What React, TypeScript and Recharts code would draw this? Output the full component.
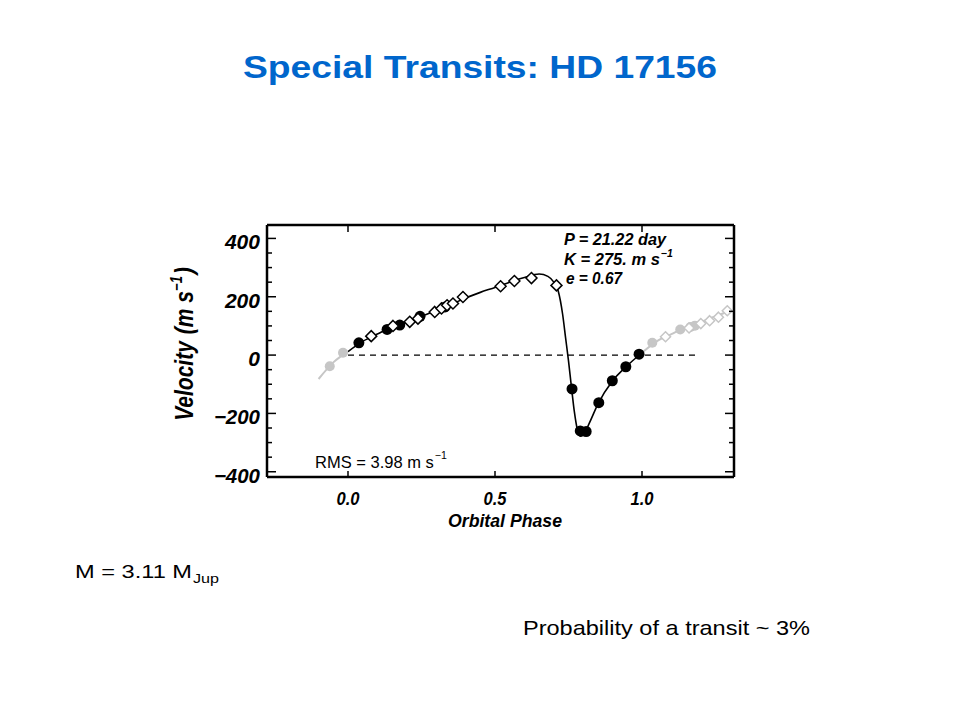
import React from 'react'
import { ComposedChart, Line, Scatter, XAxis, YAxis, ReferenceLine } from 'recharts'

// fitted orbit
const fitPhase = [0, 0.05, 0.1, 0.15, 0.2, 0.25, 0.3, 0.35, 0.4, 0.45, 0.5, 0.55, 0.6, 0.65, 0.68, 0.7, 0.715, 0.73, 0.74, 0.75, 0.76, 0.77, 0.78, 0.79, 0.8, 0.82, 0.85, 0.9, 0.95, 1.0]
const fitVel = [12, 47, 72, 96, 113, 133, 152, 173, 196, 215, 232, 250, 266, 278, 270, 250, 220, 140, 60, -20, -110, -195, -255, -278, -275, -235, -168, -88, -36, 8]

const fitLeftPhase = [-0.1, -0.05, 0]
const fitLeftVel = [-82, -25, 12]
const fitRightPhase = [1.0, 1.05, 1.1, 1.15, 1.2, 1.25, 1.3]
const fitRightVel = [8, 47, 72, 96, 113, 133, 152]

// observations
const dotPhase = [0.037, 0.133, 0.176, 0.245, 0.33, 0.762, 0.79, 0.81, 0.853, 0.899, 0.945, 0.99]
const dotVel = [42, 88, 103, 133, 165, -116, -260, -262, -163, -88, -40, 3]
const diaPhase = [0.079, 0.153, 0.21, 0.238, 0.295, 0.318, 0.337, 0.357, 0.391, 0.519, 0.566, 0.624, 0.709]
const diaVel = [65, 100, 114, 125, 148, 160, 171, 177, 199, 236, 254, 264, 239]

// repeated phases, drawn in grey
const greyDotPhase = [-0.062, -0.017, 1.035, 1.13, 1.165, 1.18]
const greyDotVel = [-38, 8, 42, 88, 96, 101]
const greyDiaPhase = [1.08, 1.16, 1.2, 1.23, 1.26, 1.29]
const greyDiaVel = [63, 93, 108, 118, 130, 152]

const xTicks = [0, 0.5, 1.0]
const yTicks = [-400, -350, -300, -250, -200, -150, -100, -50, 0, 50, 100, 150, 200, 250, 300, 350, 400]
const yLabelled = [-400, -200, 0, 200, 400]

const pts = (xs: number[], ys: number[]) => xs.map((x, i) => ({ x, y: ys[i] }))

const fit = pts(fitPhase, fitVel)
const fitLeft = pts(fitLeftPhase, fitLeftVel)
const fitRight = pts(fitRightPhase, fitRightVel)
const dots = pts(dotPhase, dotVel)
const diamonds = pts(diaPhase, diaVel)
const greyDots = pts(greyDotPhase, greyDotVel)
const greyDiamonds = pts(greyDiaPhase, greyDiaVel)

const FONT = '"Liberation Sans", Arial, Helvetica, sans-serif'
const GREY = '#c6c6c6'

const fmt = (v: number) => (v < 0 ? '\u2212' + Math.abs(v) : String(v))

function LeftTick(props: any) {
  const { x, y, payload } = props
  const v = payload.value
  const major = yLabelled.includes(v)
  const label = fmt(v)
  const w = String(Math.abs(v)).length * 11.7 + (v < 0 ? 11 : 0)
  return (
    <g>
      <line x1={x} x2={x + (major ? 9 : 5)} y1={y} y2={y} stroke="#000" strokeWidth={1.5} />
      {major && (
        <text x={x - 7 - w} y={y + 11} fontFamily={FONT} fontWeight="bold" fontStyle="italic" fontSize={21}
          fill="#000" textLength={w} lengthAdjust="spacingAndGlyphs">
          {label}
        </text>
      )}
    </g>
  )
}

function RightTick(props: any) {
  const { x, y, payload } = props
  const major = yLabelled.includes(payload.value)
  return <line x1={x} x2={x - (major ? 9 : 5)} y1={y} y2={y} stroke="#000" strokeWidth={1.5} />
}

function BottomTick(props: any) {
  const { x, y, payload } = props
  return (
    <g>
      <line x1={x} x2={x} y1={y} y2={y - 6} stroke="#000" strokeWidth={1.5} />
      <text x={x - 11.5} y={y + 28} fontFamily={FONT} fontWeight="bold" fontStyle="italic" fontSize={18.5}
        fill="#000" textLength={23} lengthAdjust="spacingAndGlyphs">
        {payload.value.toFixed(1)}
      </text>
    </g>
  )
}

function TopTick(props: any) {
  const { x, y } = props
  return <line x1={x} x2={x} y1={y} y2={y + 7} stroke="#000" strokeWidth={1.5} />
}

const Dot = (p: any) => <circle cx={p.cx} cy={p.cy} r={5.5} fill="#000" />
const GreyDot = (p: any) => <circle cx={p.cx} cy={p.cy} r={5} fill={GREY} />
const Diamond = (p: any) => (
  <path d={`M${p.cx},${p.cy - 5.5}L${p.cx + 5.5},${p.cy}L${p.cx},${p.cy + 5.5}L${p.cx - 5.5},${p.cy}Z`} fill="#fff" stroke="#000" strokeWidth={1.5} />
)
const GreyDiamond = (p: any) => (
  <path d={`M${p.cx},${p.cy - 5}L${p.cx + 5},${p.cy}L${p.cx},${p.cy + 5}L${p.cx - 5},${p.cy}Z`} fill="#fff" stroke={GREY} strokeWidth={1.5} />
)

const axisLine = { stroke: '#000', strokeWidth: 2.5 }

export default function App() {
  return (
    <div style={{ position: 'absolute', left: 0, top: 0, width: 960, height: 720, background: '#fff' }}>
      <ComposedChart width={960} height={720} margin={{ top: 215, right: 216, bottom: 183, left: 207 }}>
        <XAxis dataKey="x" type="number" domain={[-0.2755, 1.3129]} allowDataOverflow ticks={xTicks} interval={0}
          height={60} tickSize={0} tickMargin={0} tickLine={false} axisLine={axisLine} tick={<BottomTick />} />
        <XAxis xAxisId="top" orientation="top" dataKey="x" type="number" domain={[-0.2755, 1.3129]} allowDataOverflow ticks={xTicks} interval={0}
          height={10} tickSize={0} tickMargin={0} tickLine={false} axisLine={axisLine} tick={<TopTick />} />
        <YAxis dataKey="y" type="number" domain={[-418, 446]} allowDataOverflow ticks={yTicks} interval={0}
          width={60} tickSize={0} tickMargin={0} tickLine={false} axisLine={axisLine} tick={<LeftTick />} />
        <YAxis yAxisId="right" orientation="right" type="number" domain={[-418, 446]} allowDataOverflow ticks={yTicks} interval={0}
          width={10} tickSize={0} tickMargin={0} tickLine={false} axisLine={axisLine} tick={<RightTick />} />

        <ReferenceLine segment={[{ x: 0, y: 0 }, { x: 1.185, y: 0 }]} stroke="#000" strokeWidth={1.2} strokeDasharray="6 5" />

        <Line data={fitLeft} dataKey="y" type="monotone" stroke={GREY} strokeWidth={2} dot={false} isAnimationActive={false} />
        <Line data={fitRight} dataKey="y" type="monotone" stroke={GREY} strokeWidth={2} dot={false} isAnimationActive={false} />
        <Line data={fit} dataKey="y" type="monotone" stroke="#000" strokeWidth={1.6} dot={false} isAnimationActive={false} />

        <Scatter data={greyDots} shape={GreyDot} isAnimationActive={false} />
        <Scatter data={greyDiamonds} shape={GreyDiamond} isAnimationActive={false} />
        <Scatter data={dots} shape={Dot} isAnimationActive={false} />
        <Scatter data={diamonds} shape={Diamond} isAnimationActive={false} />
      </ComposedChart>

      <svg width={960} height={720} style={{ position: 'absolute', left: 0, top: 0, pointerEvents: 'none' }}>
        <text x={243} y={78} fontFamily={FONT} fontWeight="bold" fontSize={32} fill="#0066cc" textLength={474} lengthAdjust="spacingAndGlyphs">
          Special Transits: HD 17156
        </text>

        <g transform="translate(193,344) rotate(-90) scale(1,1.2)" fontFamily={FONT} fontWeight="bold" fontStyle="italic" fill="#000">
          <text x={0} y={0} textAnchor="middle" fontSize={21}>
            Velocity<tspan dx={7}>(m s</tspan>
            <tspan fontSize={13} dy={-9}>{'\u22121'}</tspan>
            <tspan dy={9} dx={2}>)</tspan>
          </text>
        </g>

        <text x={448} y={527} fontFamily={FONT} fontWeight="bold" fontStyle="italic" fontSize={19} fill="#000" textLength={114} lengthAdjust="spacingAndGlyphs">
          Orbital Phase
        </text>

        <g fontFamily={FONT} fontWeight="bold" fontStyle="italic" fill="#000">
          <text x={564} y={245} fontSize={16.5} textLength={102} lengthAdjust="spacingAndGlyphs">P = 21.22 day</text>
          <text x={564} y={264.5} fontSize={16.5}>
            K = 275. m s<tspan fontSize={10.5} dy={-8} dx={1}>{'\u22121'}</tspan>
          </text>
          <text x={566} y={284} fontSize={16.5} textLength={56} lengthAdjust="spacingAndGlyphs">e = 0.67</text>
        </g>

        <text x={315} y={468} fontFamily={FONT} fontSize={16.5} fill="#000">
          RMS = 3.98 m s<tspan fontSize={10.5} dy={-9} dx={1}>{'\u22121'}</tspan>
        </text>

        <text x={75} y={578} fontFamily={FONT} fontSize={19} fill="#000" textLength={117} lengthAdjust="spacingAndGlyphs">M = 3.11 M</text>
        <text x={193} y={583} fontFamily={FONT} fontSize={13.5} fill="#000" textLength={26} lengthAdjust="spacingAndGlyphs">Jup</text>

        <text x={523} y={635} fontFamily={FONT} fontSize={21} fill="#000" textLength={287} lengthAdjust="spacingAndGlyphs">
          Probability of a transit ~ 3%
        </text>
      </svg>
    </div>
  )
}
